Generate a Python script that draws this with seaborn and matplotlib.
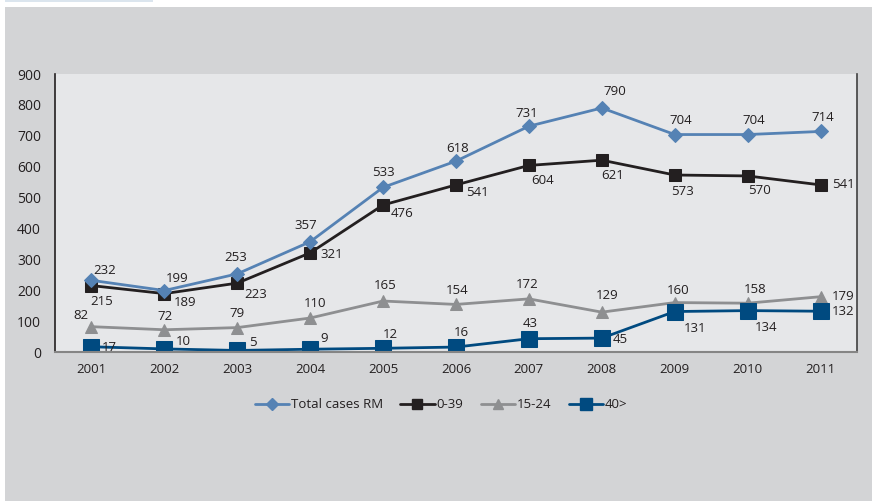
import pandas as pd
import matplotlib.pyplot as plt
import seaborn as sns
from matplotlib.patches import Rectangle
from matplotlib.lines import Line2D

# Values
years = [2001, 2002, 2003, 2004, 2005, 2006, 2007, 2008, 2009, 2010, 2011]
total_rm = [232, 199, 253, 357, 533, 618, 731, 790, 704, 704, 714]
age_0_39 = [215, 189, 223, 321, 476, 541, 604, 621, 573, 570, 541]
age_15_24 = [82, 72, 79, 110, 165, 154, 172, 129, 160, 158, 179]
age_40 = [17, 10, 5, 9, 12, 16, 43, 45, 131, 134, 132]
series_names = ['Total cases RM', '0-39', '15-24', '40>']

# label offsets in pixels (dx, dy) per point
off_total = [(13, 10), (13, 12), (-2, 16), (-4, 16), (0, 15), (2, 13), (-2, 13), (13, 16), (6, 14), (6, 14), (2, 14)]
off_0_39 = [(10, -16), (21, -9), (18, -11), (22, -2), (19, -9), (21, -8), (14, -15), (11, -15), (8, -16), (12, -15), (23, 0)]
off_15_24 = [(-11, 11), (1, 13), (0, 14), (5, 15), (2, 16), (1, 14), (-2, 14), (5, 17), (3, 12), (7, 14), (23, 0)]
off_40 = [(18, -1), (19, 7), (16, 8), (14, 11), (7, 14), (5, 15), (1, 15), (18, -1), (20, -17), (18, -17), (23, 0)]

df = pd.DataFrame({'year': years, 'Total cases RM': total_rm, '0-39': age_0_39,
                   '15-24': age_15_24, '40>': age_40})

styles = {
    'Total cases RM': dict(color='#5582b4', marker='D', ms=7, lw=2.0),
    '0-39': dict(color='#231f20', marker='s', ms=8, lw=2.0),
    '15-24': dict(color='#8e8f91', marker='^', ms=9, lw=2.0),
    '40>': dict(color='#004a80', marker='s', ms=11, lw=2.0),
}
offsets = {'Total cases RM': off_total, '0-39': off_0_39, '15-24': off_15_24, '40>': off_40}

sns.set_style('white')
plt.rcParams['font.family'] = ['Open Sans', 'DejaVu Sans']
text_color = '#231f20'

fig = plt.figure(figsize=(8.72, 5.01), dpi=100)
fig.patch.set_facecolor('white')
fig.patches.append(Rectangle((5 / 872, 0), 1, 1 - 7 / 501, transform=fig.transFigure,
                             facecolor='#d3d4d6', edgecolor='none', zorder=-10))
fig.patches.append(Rectangle((5 / 872, 1 - 2 / 501), 148 / 872, 2 / 501, transform=fig.transFigure,
                             facecolor='#dbe5ee', edgecolor='none', zorder=-10))

ax = fig.add_axes([55 / 872, 1 - 352 / 501, 802 / 872, 278 / 501])
ax.set_facecolor('#e6e7e9')

for name in ['15-24', '40>', '0-39', 'Total cases RM']:
    st = styles[name]
    sns.lineplot(data=df, x='year', y=name, ax=ax, color=st['color'], marker=st['marker'],
                 markersize=st['ms'], markeredgecolor=st['color'], linewidth=st['lw'],
                 legend=False)
    for x, v, (dx, dy) in zip(years, df[name], offsets[name]):
        ax.annotate(str(v), (x, v), xytext=(dx, dy), textcoords='offset pixels',
                    ha='center', va='center', fontsize=9.5, color=text_color)

ax.set_xlim(2000.5, 2011.5)
ax.set_ylim(0, 900)
ax.set_xticks(years)
ax.set_xticklabels([str(y) for y in years])
ax.set_yticks(range(0, 901, 100))
ax.tick_params(axis='both', length=0, labelsize=9.5, labelcolor=text_color, pad=8)
ax.tick_params(axis='y', labelsize=10, pad=10)
ax.set_xlabel('')
ax.set_ylabel('')

ax.spines['top'].set_visible(False)
ax.spines['left'].set_color('#231f20')
ax.spines['left'].set_linewidth(1.2)
ax.spines['right'].set_color('#404040')
ax.spines['right'].set_linewidth(1.2)
ax.spines['bottom'].set_color('#858585')
ax.spines['bottom'].set_linewidth(1.5)

handles = []
for name in series_names:
    st = styles[name]
    handles.append(Line2D([0], [0], color=st['color'], marker=st['marker'],
                          markersize=st['ms'] * 0.85, markeredgecolor=st['color'], linewidth=st['lw']))
fig.legend(handles, series_names, loc='center', bbox_to_anchor=(441 / 872, 1 - 405 / 501),
           ncol=4, frameon=False, fontsize=9.5, handlelength=2.6, handletextpad=0.15,
           columnspacing=1.3, labelcolor=text_color)

fig.savefig('out.png', dpi=100)
